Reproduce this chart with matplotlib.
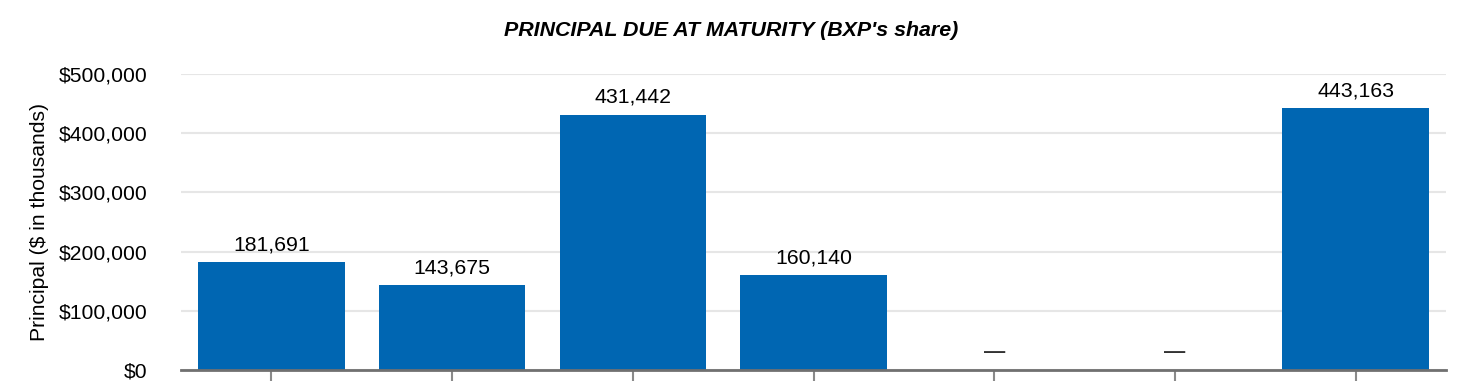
import matplotlib
matplotlib.use("Agg")
import matplotlib.pyplot as plt
from matplotlib.ticker import FuncFormatter

# Dati
categorie = ["A", "B", "C", "D", "E", "F", "G"]
principal = [181691, 143675, 431442, 160140, 0, 0, 443163]
etichette = ["181,691", "143,675", "431,442", "160,140", "—", "—", "443,163"]

plt.rcParams['font.family'] = ['Liberation Sans', 'DejaVu Sans']

fig = plt.figure(figsize=(14.66, 3.84), dpi=100)
ax = fig.add_axes([181 / 1466, 14 / 384, 1265 / 1466, 296 / 384])

x = range(len(categorie))
ax.bar(x, principal, width=0.81, color="#0066b2", zorder=3)

# Etichette sopra le barre, trattino per i valori nulli
for xi, v, lab in zip(x, principal, etichette):
    if v > 0:
        ax.annotate(lab, (xi, v), xytext=(0, 5.5), textcoords="offset points",
                    ha="center", va="bottom", fontsize=15.3)
    else:
        ax.annotate(lab, (xi, v), xytext=(0, 13), textcoords="offset points",
                    ha="center", va="center", fontsize=15.3, fontweight="bold",
                    color="#333333")

ax.set_xlim(-0.5, len(categorie) - 0.5)
ax.set_ylim(0, 500000)
ax.set_yticks(range(0, 500001, 100000))
ax.yaxis.set_major_formatter(FuncFormatter(lambda v, p: f"${v:,.0f}"))
ax.set_xticks(list(x))
ax.set_xticklabels([])
ax.tick_params(axis="x", length=8, width=1.5, color="#8a8a8a")
ax.tick_params(axis="y", length=0, labelsize=15.2, pad=24)
ax.grid(axis="y", color="#e6e6e6", linewidth=1.5, zorder=0)
ax.set_axisbelow(True)

for s in ["top", "right", "left"]:
    ax.spines[s].set_visible(False)
ax.spines["bottom"].set_color("#707070")
ax.spines["bottom"].set_linewidth(2)
ax.spines["bottom"].set_zorder(4)

ax.set_ylabel("Principal ($ in thousands)", fontsize=15.2, labelpad=7)
fig.suptitle("PRINCIPAL DUE AT MATURITY (BXP's share)", x=731 / 1466, y=1 - 30 / 384,
             va="center", fontsize=15.4, fontweight="bold", fontstyle="italic")

fig.savefig("out.png", dpi=100)
